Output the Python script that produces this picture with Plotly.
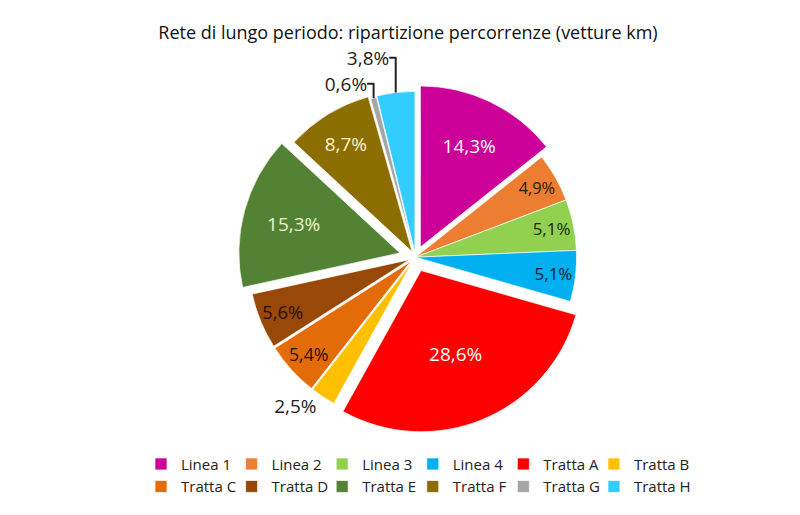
import plotly.graph_objects as go

# Data
categories = ['Linea 1', 'Linea 2', 'Linea 3', 'Linea 4', 'Tratta A', 'Tratta B',
              'Tratta C', 'Tratta D', 'Tratta E', 'Tratta F', 'Tratta G', 'Tratta H']
share_pct = [14.3, 4.9, 5.1, 5.1, 28.6, 2.5, 5.4, 5.6, 15.3, 8.7, 0.6, 3.8]

# Styles
colors = ['#CC0099', '#ED7D31', '#92D050', '#00B0F0', '#FF0000', '#FFC000',
          '#E36C09', '#984807', '#548235', '#8B6D00', '#A6A6A6', '#33CCFF']
pull = [0.07, 0.0, 0.0, 0.0, 0.09, 0.04, 0.04, 0.04, 0.10, 0.04, 0.02, 0.03]
text_pos = ['inside', 'inside', 'inside', 'inside', 'inside', 'outside',
            'inside', 'inside', 'inside', 'inside', 'outside', 'outside']
inside_colors = ['white', '#2a1a00', '#1a2a00', '#0a2030', 'white', '#222222',
                 '#2a1000', '#2a1000', '#e8f5d0', '#fff3c8', '#222222', '#222222']

FONT = 'Open Sans, Lato, sans-serif'

fig = go.Figure(go.Pie(
    labels=categories,
    values=share_pct,
    sort=False,
    direction='clockwise',
    rotation=0,
    pull=pull,
    marker=dict(colors=colors, line=dict(color='rgba(255,255,255,0.7)', width=1)),
    textposition=text_pos,
    texttemplate='%{value:.1f}%',
    insidetextorientation='horizontal',
    insidetextfont=dict(color=inside_colors, size=19, family=FONT),
    outsidetextfont=dict(color='#222222', size=19, family=FONT),
    domain=dict(x=[0, 1], y=[0.2, 1.0]),
    hoverinfo='label+value',
))

fig.update_layout(
    width=800, height=515,
    separators=',.',
    font=dict(family=FONT, size=15, color='#222222'),
    title=dict(text='Rete di lungo periodo: ripartizione percorrenze (vetture km)',
               x=0.5, xanchor='center', y=0.952, yanchor='middle',
               font=dict(size=18, color='#111111')),
    margin=dict(l=90, r=90, t=45, b=0),
    paper_bgcolor='white',
    plot_bgcolor='white',
    showlegend=True,
    legend=dict(orientation='h', x=0.5, xanchor='center', y=0.17, yanchor='top',
                entrywidthmode='fraction', entrywidth=0.165,
                font=dict(size=15, color='#222222'),
                traceorder='normal'),
)

fig.write_html('out.html')
